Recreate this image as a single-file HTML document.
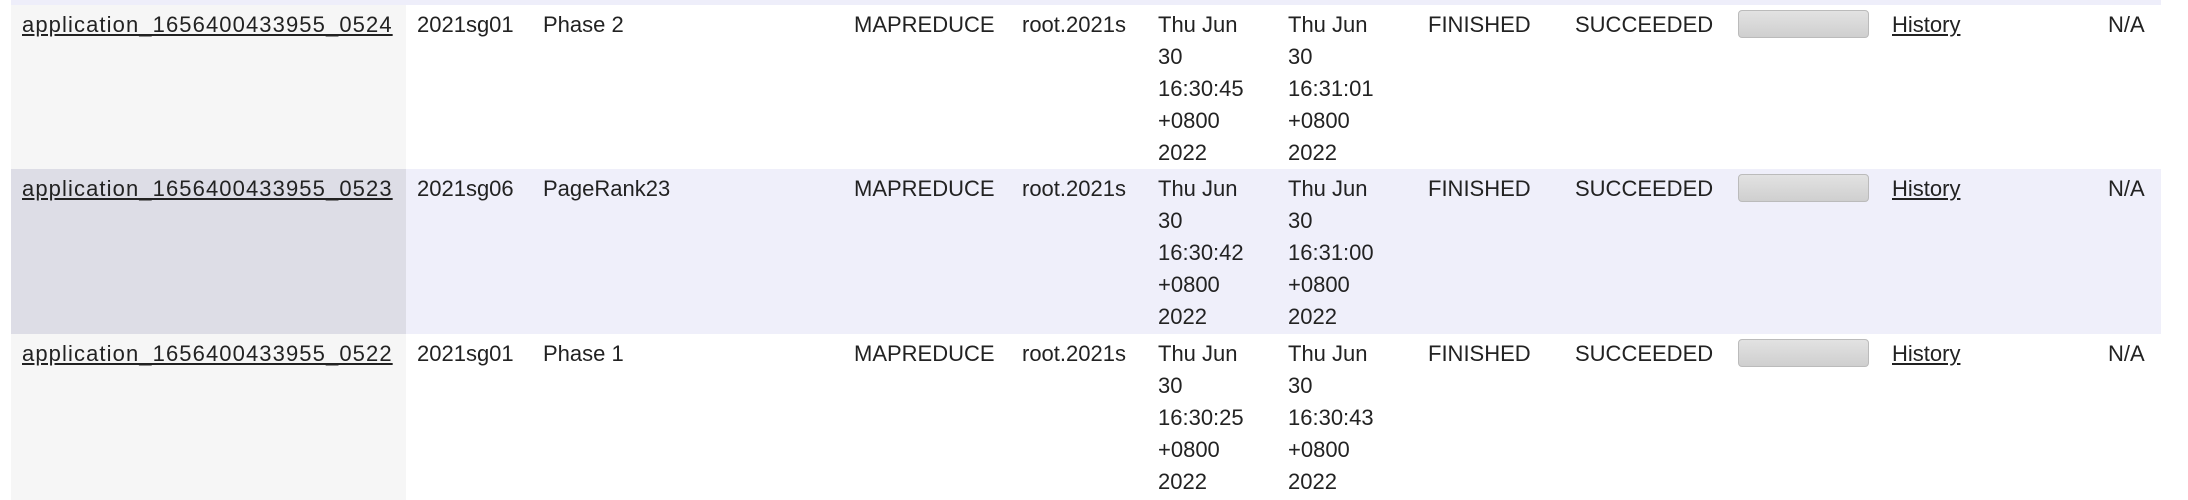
<!DOCTYPE html>
<html><head><meta charset="utf-8"><style>
html,body{margin:0;padding:0;width:2188px;height:500px;overflow:hidden;background:#fff;font-family:"Liberation Sans",sans-serif;font-size:22px;color:#222}
.strip{position:absolute;left:11px;top:0;width:2150px;height:5px;background:#eeeefa}
.row{position:absolute;left:11px;width:2150px}
.c0{position:absolute;left:0;top:0;bottom:0;width:395px}
.t{position:absolute;line-height:32px;white-space:nowrap}
.id{letter-spacing:1.1px}
a{color:#222;text-decoration:underline}
.bar{position:absolute;width:131px;height:28px;border:1px solid #bbb;border-radius:4px;background:linear-gradient(#e2e2e2,#cfcfcf);box-sizing:border-box}
</style></head><body>
<div class="strip"></div>
<div id="rows"></div>
<script>
const ids=["application_1656400433955_0524","application_1656400433955_0523","application_1656400433955_0522"];
const users=["2021sg01","2021sg06","2021sg01"];
const names=["Phase 2","PageRank23","Phase 1"];
const starts=[["Thu Jun","30","16:30:45","+0800","2022"],["Thu Jun","30","16:30:42","+0800","2022"],["Thu Jun","30","16:30:25","+0800","2022"]];
const ends=[["Thu Jun","30","16:31:01","+0800","2022"],["Thu Jun","30","16:31:00","+0800","2022"],["Thu Jun","30","16:30:43","+0800","2022"]];
const tops=[5,169,334];const hs=[164,165,166];
const bgs=["#ffffff","#efeffa","#ffffff"];const c0bg=["#f6f6f6","#dddde6","#f6f6f6"];
const root=document.getElementById('rows');
function txt(parent,x,y,html,name,inter){const d=document.createElement('div');d.className='t';d.style.left=x+'px';d.style.top=y+'px';d.innerHTML=html;


parent.appendChild(d);return d;}
for(let i=0;i<3;i++){
 const r=document.createElement('div');r.className='row';r.style.top=tops[i]+'px';r.style.height=hs[i]+'px';r.style.background=bgs[i];
 
 
 const c=document.createElement('div');c.className='c0';c.style.background=c0bg[i];
 
 
 r.appendChild(c);
 const y=4;
 txt(r,11,y,'<a class="id">'+ids[i]+'</a>','app-id-link',true);
 txt(r,406,y,users[i],'user','');
 txt(r,532,y,names[i],'app-name','');
 txt(r,843,y,'MAPREDUCE','app-type','');
 txt(r,1011,y,'root.2021s','queue','');
 txt(r,1147,y,starts[i].join('<br>'),'start-time','');
 txt(r,1277,y,ends[i].join('<br>'),'finish-time','');
 txt(r,1417,y,'FINISHED','state','');
 txt(r,1564,y,'SUCCEEDED','final-status','');
 const b=document.createElement('div');b.className='bar';b.style.left='1727px';b.style.top='5px';
 
 
 r.appendChild(b);
 txt(r,1881,y,'<a>History</a>','history-link',true);
 txt(r,2097,y,'N/A','blacklisted-nodes','');
 root.appendChild(r);
}
</script>
</body></html>
